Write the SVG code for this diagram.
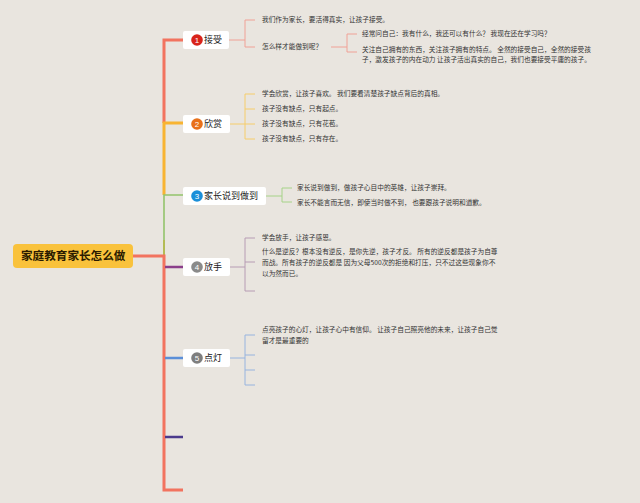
<svg xmlns="http://www.w3.org/2000/svg" width="640" height="503" viewBox="0 0 640 503">
<style>
.bg{fill:#e9e5df}
.node{fill:#ffffff}
.nt{font-family:"Noto Sans CJK SC","Noto Sans",sans-serif;font-size:9px;fill:#222}
.ct{font-family:"Noto Sans CJK SC","Noto Sans",sans-serif;font-size:6.7px;fill:#333}
.num{font-family:"Liberation Sans",sans-serif;font-size:8px;fill:#fff;text-anchor:middle}
.rt{font-family:"Noto Sans CJK SC",sans-serif;font-size:11.6px;font-weight:bold;fill:#2a1a00}
.ln{fill:none;stroke-linecap:butt}
</style>
<rect class="bg" x="0" y="0" width="640" height="503"/>
<g id="connectors">
  <!-- trunk -->
  <path class="ln" d="M183 40 H164 V123" stroke="#f2735f" stroke-width="3"/>
  <path class="ln" d="M183 123 H164 V195" stroke="#f8b432" stroke-width="3"/>
  <path class="ln" d="M183 195 H164 V256" stroke="#93c46c" stroke-width="1.6"/>
  <path class="ln" d="M164 240 V256" stroke="#b8b84a" stroke-width="1.6"/>
  <path class="ln" d="M133 256 H164 V490 H183" stroke="#f2735f" stroke-width="3"/>
  <path class="ln" d="M165 267 H183" stroke="#8b3e8a" stroke-width="2.5"/>
  <path class="ln" d="M165 358 H183" stroke="#5b8fd8" stroke-width="2.5"/>
  <path class="ln" d="M165 437 H183" stroke="#4b3a8c" stroke-width="2.5"/>
  <!-- 接受 -->
  <path class="ln" d="M229 40 H245 M255 20 H245 V47 H255" stroke="#f0a196" stroke-width="1"/>
  <path class="ln" d="M331 47 H347 M357 34 H347 V52 H357" stroke="#f0a196" stroke-width="1"/>
  <!-- 欣赏 -->
  <path class="ln" d="M230 124 H245 M255 94 H245 V139 H255 M245 109 H255 M245 124 H255" stroke="#f6cd6a" stroke-width="1"/>
  <!-- 家长说到做到 -->
  <path class="ln" d="M266 196 H282 M292 188 H282 V202 H292" stroke="#a6d388" stroke-width="1"/>
  <!-- 放手 -->
  <path class="ln" d="M230 267 H245 M255 238 H245 V291 H255 M245 262 H255" stroke="#b79cb4" stroke-width="1"/>
  <!-- 点灯 -->
  <path class="ln" d="M230 358 H245 M255 335 H245 V385 H255 M245 355 H255 M245 370 H255" stroke="#97b4df" stroke-width="1"/>
</g>
<g id="root">
  <rect x="13" y="244" width="120" height="24" rx="4" fill="#f9c23c"/>
  <text class="rt" x="21" y="260.2">家庭教育家长怎么做</text>
</g>
<g id="n1">
  <rect class="node" x="183" y="31" width="46" height="18" rx="2"/>
  <circle cx="197" cy="40" r="5.8" fill="#d8241b"/>
  <text class="num" x="197" y="42.9">1</text>
  <text class="nt" x="204" y="43.2">接受</text>
</g>
<g id="n1c">
  <text class="ct" x="262" y="22.4">我们作为家长，要活得真实，让孩子接受。</text>
  <text class="ct" x="262" y="49.4">怎么样才能做到呢？</text>
  <text class="ct" x="362" y="36.4">经常问自己：我有什么，我还可以有什么？ 我现在还在学习吗？</text>
  <text class="ct" x="362" y="52.4">关注自己拥有的东西，关注孩子拥有的特点。 全然的接受自己，全然的接受孩</text>
  <text class="ct" x="362" y="62.4">子，激发孩子的内在动力 让孩子活出真实的自己，我们也要接受平庸的孩子。</text>
</g>
<g id="n2">
  <rect class="node" x="183" y="115" width="47" height="18" rx="2"/>
  <circle cx="197" cy="124" r="5.8" fill="#e8711a"/>
  <text class="num" x="197" y="126.9">2</text>
  <text class="nt" x="204" y="127.2">欣赏</text>
</g>
<g id="n2c">
  <text class="ct" x="262" y="96.4">学会欣赏，让孩子喜欢。 我们要看清楚孩子缺点背后的真相。</text>
  <text class="ct" x="262" y="111.4">孩子没有缺点，只有起点。</text>
  <text class="ct" x="262" y="126.4">孩子没有缺点，只有花苞。</text>
  <text class="ct" x="262" y="141.4">孩子没有缺点，只有存在。</text>
</g>
<g id="n3">
  <rect class="node" x="183" y="187" width="83" height="18" rx="2"/>
  <circle cx="197" cy="196" r="5.8" fill="#1a8fd9"/>
  <text class="num" x="197" y="198.9">3</text>
  <text class="nt" x="204" y="199.2">家长说到做到</text>
</g>
<g id="n3c">
  <text class="ct" x="297" y="190.4">家长说到做到，做孩子心目中的英雄，让孩子崇拜。</text>
  <text class="ct" x="297" y="205.4">家长不能言而无信，即使当时做不到， 也要跟孩子说明和道歉。</text>
</g>
<g id="n4">
  <rect class="node" x="183" y="258" width="47" height="18" rx="2"/>
  <circle cx="197" cy="267" r="5.8" fill="#8a8a8a"/>
  <text class="num" x="197" y="269.9">4</text>
  <text class="nt" x="204" y="270.2">放手</text>
</g>
<g id="n4c">
  <text class="ct" x="262" y="240.4">学会放手，让孩子感恩。</text>
  <text class="ct" x="262" y="254.4">什么是逆反？根本没有逆反，是你先逆，孩子才反。 所有的逆反都是孩子为自尊</text>
  <text class="ct" x="262" y="265.4">而战。所有孩子的逆反都是 因为父母500次的拒绝和打压，只不过这些现象你不</text>
  <text class="ct" x="262" y="276.4">以为然而已。</text>
</g>
<g id="n5">
  <rect class="node" x="183" y="349" width="47" height="18" rx="2"/>
  <circle cx="197" cy="358" r="5.8" fill="#7e7e7e"/>
  <text class="num" x="197" y="360.9">5</text>
  <text class="nt" x="204" y="361.2">点灯</text>
</g>
<g id="n5c">
  <text class="ct" x="262" y="332.4">点亮孩子的心灯，让孩子心中有信仰。 让孩子自己照亮他的未来，让孩子自己觉</text>
  <text class="ct" x="262" y="343.4">留才是最重要的</text>
</g>
</svg>
